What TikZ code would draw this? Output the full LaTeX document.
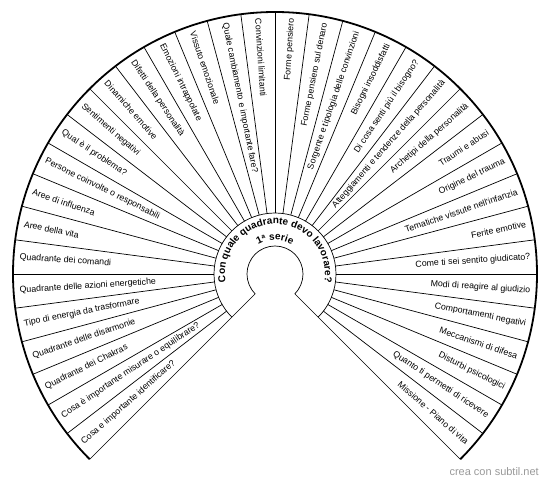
\documentclass[tikz,border=0pt]{standalone}
\usepackage{fontspec}
\setmainfont{Liberation Sans}
\usetikzlibrary{decorations.text}
\tikzset{
 rim/.style={draw=black, line width=1.8pt},
 ring/.style={draw=black, line width=0.7pt},
 spoke/.style={draw=black, line width=0.7pt},
 lbl/.style={inner sep=0pt, font=\fontsize{8.8}{10}\selectfont},
 credit/.style={inner sep=0pt, text=black!40, font=\fontsize{11}{13}\selectfont},
}

\begin{document}
\begin{tikzpicture}[x=1pt, y=1pt]
 \useasboundingbox (-275,-208) rectangle (275,274);
 % spokes
 \foreach \k in {1,...,35}
 \draw[spoke] ({225-\k*7.5}:61) -- ({225-\k*7.5}:262);
 \draw[spoke] (225:28) -- (225:262);
 \draw[spoke] (-45:28) -- (-45:262);
 % rings
 \draw[ring] (225:28) arc[start angle=225, end angle=-45, radius=28];
 \draw[ring] (225:61) arc[start angle=225, end angle=-45, radius=61];
 \draw[rim] (225:262) arc[start angle=225, end angle=-45, radius=262];
 % sector labels
 \foreach \txt [count=\k] in {Cosa e importante identificare?,
 Cosa è importante misurare o equilibrare?, Quadrante dei Chakras,
 Quadrante delle disarmonie, Tipo di energia da trasformare,
 Quadrante delle azioni energetiche, Quadrante dei comandi,
 Aree della vita, Aree di influenza, Persone coinvolte o responsabili,
 Qual è il problema?, Sentimenti negativi, Dinamiche emotive,
 Difetti della personalità, Emozioni intrappolate, Vissuto emozionale,
 Quale cambiamento e importante fare?, Convinzioni limitanti,
 Forme pensiero, Forme pensiero sul denaro,
 Sorgente e tipologia delle convinzioni, Bisogni insoddisfatti,
 Di cosa senti più il bisogno?, Atteggiamenti e tendenze della personalità,
 Archetipi della personalità, Traumi e abusi, Origine del trauma,
 Tematiche vissute nell'infanzia, Ferite emotive,
 Come ti sei sentito giudicato?, Modi di reagire al giudizio,
 Comportamenti negativi, Meccanismi di difesa, Disturbi psicologici,
 Quanto ti permetti di ricevere, Missione - Piano di vita}{
 \pgfmathsetmacro\ang{225-(\k-0.5)*7.5}
 \ifnum\k<19
 \pgfmathsetmacro\rot{\ang+180}
 \node[lbl, anchor=west, rotate=\rot] (L\k) at (\ang:256) {\txt};
 \else
 \node[lbl, anchor=east, rotate=\ang] (L\k) at (\ang:256) {\txt};
 \fi
 }
 % centre question
 \path[decorate, decoration={text along path, text align=center,
 text={|\bfseries\fontsize{10}{12}\selectfont|Con quale quadrante devo lavorare?}}]
 (200:50) arc[start angle=200, end angle=-20, radius=50];
 \path[decorate, decoration={text along path, text align=center,
 text={|\bfseries\fontsize{10}{12}\selectfont|1ª serie}}]
 (160:34) arc[start angle=160, end angle=20, radius=34];
 \node[credit, anchor=east] (wm) at (264,-198) {crea con subtil.net};
\end{tikzpicture}
\end{document}
